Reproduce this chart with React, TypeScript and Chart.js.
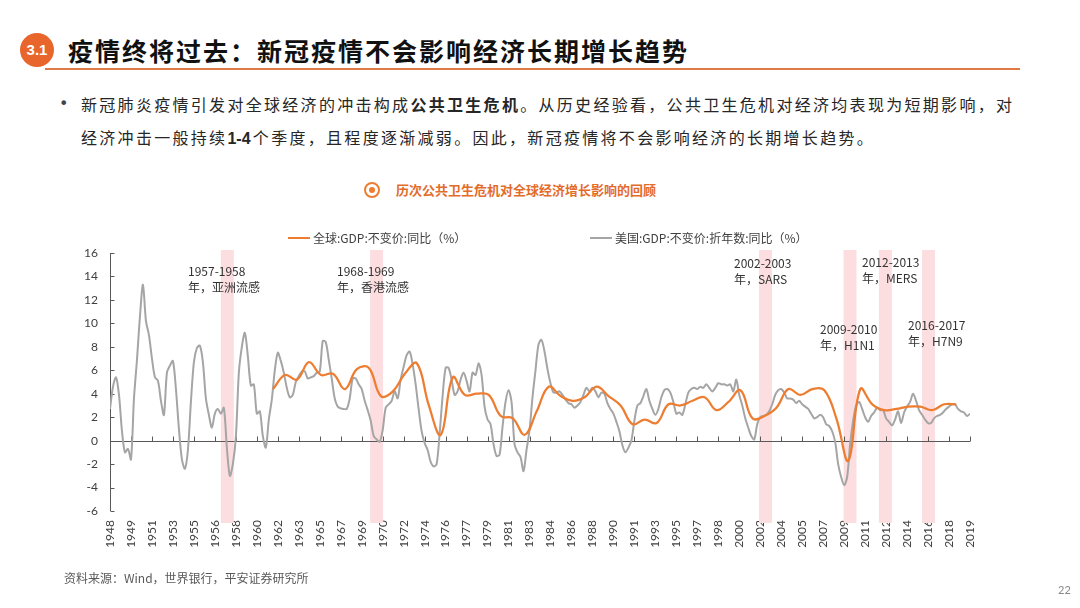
import React, { useEffect, useRef } from 'react';
import { Chart, registerables } from 'chart.js';

Chart.register(...registerables);

// ---------- data ----------
const xTickLabels = [
  '1948', '1949', '1951', '1953', '1955', '1956', '1958', '1960', '1962', '1963',
  '1965', '1967', '1969', '1970', '1972', '1974', '1976', '1977', '1979', '1981',
  '1983', '1984', '1986', '1988', '1990', '1991', '1993', '1995', '1997', '1998',
  '2000', '2002', '2004', '2005', '2007', '2009', '2011', '2012', '2014', '2016',
  '2018', '2019',
];
const xStartYear = 1948;
const xEndYear = 2019.75;
const xTickStepYears = 1.75;

const yMin = -6;
const yMax = 16;
const yStep = 2;

// US real GDP, annualised, yoy %, quarterly 1948Q1 - 2019Q4
const usGdp = [
  2.7, 4.6, 5.4, 3.9, // 1948
  0.8, -1.0, -0.7, -1.6, // 1949
  3.6, 6.9, 10.6, 13.3, // 1950
  10.2, 9.0, 7.0, 5.4, // 1951
  5.1, 3.4, 2.2, 5.8, // 1952
  6.4, 6.8, 4.4, 1.0, // 1953
  -1.6, -2.4, -0.8, 3.3, // 1954
  6.7, 7.9, 8.1, 6.7, // 1955
  3.6, 2.2, 1.1, 2.3, // 1956
  2.7, 2.3, 2.8, -0.6, // 1957
  -3.0, -2.0, 0.3, 5.8, // 1958
  8.0, 9.2, 7.2, 4.7, // 1959
  4.8, 2.3, 2.5, 0.4, // 1960
  -0.6, 1.8, 3.5, 6.0, // 1961
  7.5, 6.8, 5.8, 4.5, // 1962
  3.7, 3.9, 5.0, 5.5, // 1963
  5.9, 5.9, 5.3, 5.4, // 1964
  5.5, 5.8, 5.9, 8.5, // 1965
  8.4, 6.9, 5.3, 3.6, // 1966
  2.9, 2.75, 2.7, 2.7, // 1967
  3.6, 5.3, 5.3, 4.8, // 1968
  4.4, 3.4, 2.6, 1.7, // 1969
  0.4, 0.1, -0.1, 0.9, // 1970
  2.8, 3.1, 3.4, 4.2, // 1971
  3.6, 5.2, 6.3, 7.3, // 1972
  7.6, 6.5, 4.8, 2.7, // 1973
  0.8, -0.2, -0.8, -1.8, // 1974
  -2.2, -2.0, 0.6, 3.8, // 1975
  6.2, 6.2, 5.2, 3.9, // 1976
  4.2, 5.2, 5.8, 5.1, // 1977
  4.2, 5.8, 5.6, 6.6, // 1978
  5.6, 2.9, 1.8, 1.4, // 1979
  -0.3, -1.3, -1.2, 1.2, // 1980
  3.3, 4.3, 3.3, -0.3, // 1981
  -1.0, -1.4, -2.6, -0.8, // 1982
  0.9, 3.7, 6.0, 8.2, // 1983
  8.6, 7.6, 6.1, 4.9, // 1984
  4.1, 4.1, 4.2, 3.9, // 1985
  3.5, 3.2, 3.1, 2.8, // 1986
  3.0, 3.3, 3.9, 4.5, // 1987
  4.2, 4.5, 4.2, 3.7, // 1988
  4.1, 4.0, 3.2, 2.7, // 1989
  2.3, 1.6, 0.8, -0.4, // 1990
  -1.0, -0.6, 0.0, 1.7, // 1991
  3.0, 3.2, 3.8, 4.4, // 1992
  3.4, 2.7, 2.2, 2.7, // 1993
  3.7, 4.3, 4.4, 4.1, // 1994
  3.3, 2.3, 2.4, 2.2, // 1995
  3.1, 4.1, 4.4, 4.5, // 1996
  4.4, 4.6, 4.5, 4.8, // 1997
  4.5, 4.2, 4.5, 4.9, // 1998
  4.8, 4.8, 4.7, 4.8, // 1999
  4.2, 5.2, 3.9, 3.0, // 2000
  1.9, 1.1, 0.4, 0.1, // 2001
  1.4, 2.0, 2.1, 2.2, // 2002
  2.5, 3.1, 3.9, 4.3, // 2003
  4.4, 4.1, 3.6, 3.6, // 2004
  3.5, 3.2, 3.4, 3.1, // 2005
  2.9, 2.7, 2.3, 1.9, // 2006
  2.0, 2.2, 2.0, 1.4, // 2007
  1.25, 0.8, -0.1, -2.0, // 2008
  -3.1, -3.8, -3.1, -0.3, // 2009
  1.7, 3.0, 3.3, 2.7, // 2010
  2.0, 1.6, 2.1, 2.4, // 2011
  2.8, 2.6, 2.6, 1.9, // 2012
  1.6, 1.3, 1.8, 2.5, // 2013
  1.5, 2.4, 2.9, 3.3, // 2014
  4.0, 3.4, 2.6, 2.2, // 2015
  1.8, 1.5, 1.5, 1.9, // 2016
  2.1, 2.2, 2.4, 2.7, // 2017
  2.9, 3.1, 3.1, 2.7, // 2018
  2.5, 2.4, 2.1, 2.3, // 2019
];

// World real GDP yoy %, annual
const worldYears = [
  1961, 1962, 1963, 1964, 1965, 1966, 1967, 1968, 1969, 1970,
  1971, 1972, 1973, 1974, 1975, 1976, 1977, 1978, 1979, 1980,
  1981, 1982, 1983, 1984, 1985, 1986, 1987, 1988, 1989, 1990,
  1991, 1992, 1993, 1994, 1995, 1996, 1997, 1998, 1999, 2000,
  2001, 2002, 2003, 2004, 2005, 2006, 2007, 2008, 2009, 2010,
  2011, 2012, 2013, 2014, 2015, 2016, 2017, 2018,
];
const worldGdp = [
  4.4, 5.6, 5.2, 6.7, 5.6, 5.7, 4.4, 6.1, 6.2, 3.8,
  4.2, 5.7, 6.6, 3.0, 0.5, 5.4, 3.9, 4.0, 3.9, 2.1,
  1.9, 0.5, 2.5, 4.6, 3.8, 3.4, 3.7, 4.6, 3.8, 3.0,
  1.4, 1.8, 1.5, 3.1, 3.0, 3.4, 3.7, 2.6, 3.3, 4.3,
  1.9, 2.1, 2.8, 4.4, 3.9, 4.4, 4.3, 1.9, -1.7, 4.4,
  3.1, 2.6, 2.7, 2.9, 2.9, 2.6, 3.1, 3.1,
];
const worldPointOffsetYears = 0.6;

// public-health crisis periods (start year, shaded band)
const bandStarts = [1957.25, 1969.7, 2002.15, 2009.2, 2012.15, 2015.75];
const bandWidthYears = 1.08;
const bandLines1 = ['1957-1958', '1968-1969', '2002-2003', '2009-2010', '2012-2013', '2016-2017'];
const bandLines2 = ['年，亚洲流感', '年，香港流感', '年，SARS', '年，H1N1', '年，MERS', '年，H7N9'];

const worldLabel = '全球:GDP:不变价:同比（%）';
const usLabel = '美国:GDP:不变价:折年数:同比（%）';

// ---------- layout ----------
const bandLabelPos = [
  [188, 271], [337, 271], [734, 263], [820, 329], [862, 262], [908, 325],
];

const ORANGE = '#ED7D31';
const GRAY = '#A5A5A5';
const AXIS = '#595959';
const CJK = "'Noto Sans CJK SC', 'Noto Sans', sans-serif";

const decorPlugin = {
  id: 'decor',
  beforeDatasetsDraw(chart: any) {
    const { ctx, chartArea, scales } = chart;
    const xs = scales.x;
    const ys = scales.y;
    ctx.save();
    ctx.fillStyle = '#FCDDE0';
    const bandTop = chartArea.top - 3;
    const bandBottom = chartArea.bottom + 12;
    bandStarts.forEach((s) => {
      const x1 = xs.getPixelForValue(s);
      const x2 = xs.getPixelForValue(s + bandWidthYears);
      ctx.fillRect(x1, bandTop, x2 - x1, bandBottom - bandTop);
    });
    ctx.strokeStyle = AXIS;
    ctx.lineWidth = 1;
    ctx.beginPath();
    const left = Math.round(chartArea.left) + 0.5;
    ctx.moveTo(left, chartArea.top);
    ctx.lineTo(left, chartArea.bottom);
    ys.ticks.forEach((t: any) => {
      const y = Math.round(ys.getPixelForValue(t.value)) + 0.5;
      ctx.moveTo(left, y);
      ctx.lineTo(left + 4, y);
    });
    const y0 = Math.round(ys.getPixelForValue(0)) + 0.5;
    ctx.moveTo(chartArea.left, y0);
    ctx.lineTo(chartArea.right, y0);
    xs.ticks.forEach((t: any) => {
      const x = Math.round(xs.getPixelForValue(t.value)) + 0.5;
      ctx.moveTo(x, y0);
      ctx.lineTo(x, y0 - 5);
    });
    ctx.stroke();
    ctx.restore();
  },
};

function GdpChart() {
  const ref = useRef<HTMLCanvasElement | null>(null);
  useEffect(() => {
    if (!ref.current) return;
    const chart = new Chart(ref.current, {
      type: 'line',
      data: {
        datasets: [
          {
            label: worldLabel,
            data: worldGdp.map((v, i) => ({ x: worldYears[i] + worldPointOffsetYears, y: v })),
            borderColor: ORANGE,
            backgroundColor: ORANGE,
            borderWidth: 2.25,
            pointRadius: 0,
            tension: 0.4,
            order: 0,
          },
          {
            label: usLabel,
            data: usGdp.map((v, i) => ({ x: xStartYear + i / 4, y: v })),
            borderColor: GRAY,
            backgroundColor: GRAY,
            borderWidth: 2,
            pointRadius: 0,
            tension: 0.3,
            order: 1,
          },
        ],
      },
      options: {
        responsive: false,
        animation: false,
        events: [],
        layout: { padding: { left: 60, top: 253, right: 110, bottom: 47 } },
        plugins: { legend: { display: false }, tooltip: { enabled: false } },
        scales: {
          x: {
            type: 'linear',
            min: xStartYear,
            max: xEndYear,
            grid: { display: false, drawTicks: false },
            border: { display: false },
            afterBuildTicks: (s: any) => {
              s.ticks = xTickLabels.map((_, k) => ({ value: xStartYear + k * xTickStepYears }));
            },
            afterFit: (s: any) => {
              s.height = 50;
            },
            ticks: {
              autoSkip: false,
              minRotation: 90,
              maxRotation: 90,
              padding: 9,
              color: '#404040',
              font: { family: 'Lato', size: 12 },
              callback: (_v: any, i: number) => xTickLabels[i],
            },
          },
          y: {
            min: yMin,
            max: yMax,
            grid: { display: false, drawTicks: false },
            border: { display: false },
            afterFit: (s: any) => {
              s.width = 50;
            },
            ticks: {
              stepSize: yStep,
              padding: 12,
              color: '#404040',
              font: { family: 'Lato', size: 12 },
            },
          },
        },
      },
      plugins: [decorPlugin],
    } as any);
    return () => chart.destroy();
  }, []);
  return (
    <canvas
      ref={ref}
      width={1080}
      height={608}
      style={{ position: 'absolute', left: 0, top: 0, width: 1080, height: 608 }}
    />
  );
}

const abs = (left: number, top: number, extra: React.CSSProperties = {}): React.CSSProperties => ({
  position: 'absolute',
  left,
  top,
  whiteSpace: 'nowrap',
  ...extra,
});

export default function App() {
  return (
    <div
      style={{
        position: 'absolute',
        left: 0,
        top: 0,
        width: 1080,
        height: 608,
        background: '#fff',
        overflow: 'hidden',
        fontFamily: CJK,
      }}
    >
      {/* title */}
      <div
        style={abs(20, 33, {
          width: 34,
          height: 34,
          borderRadius: '50%',
          background: '#E8652B',
          color: '#fff',
          fontFamily: "'Liberation Sans', Arial, sans-serif",
          fontWeight: 700,
          fontSize: 15,
          lineHeight: '34px',
          textAlign: 'center',
        })}
      >
        3.1
      </div>
      <div style={abs(68, 33, { fontSize: 25, lineHeight: '34px', fontWeight: 700, letterSpacing: 2, color: '#111' })}>
        疫情终将过去：新冠疫情不会影响经济长期增长趋势
      </div>
      <div style={abs(45, 68, { width: 975, height: 2, background: '#E07A45' })} />

      {/* bullet text */}
      <div style={abs(59, 94, { fontSize: 16, lineHeight: '20px', color: '#444', fontFamily: "'DejaVu Sans', sans-serif" })}>•</div>
      <div style={abs(81, 94, { fontSize: 16, lineHeight: '20px', letterSpacing: 2.3, color: '#262626' })}>
        新冠肺炎疫情引发对全球经济的冲击构成<b>公共卫生危机</b>。从历史经验看，公共卫生危机对经济均表现为短期影响，对
      </div>
      <div style={abs(81, 127, { fontSize: 16, lineHeight: '20px', letterSpacing: 2.3, color: '#262626' })}>
        经济冲击一般持续
        <b style={{ letterSpacing: 0, marginRight: 2.3, fontFamily: "'Liberation Sans', Arial, sans-serif" }}>1-4</b>
        个季度，且程度逐渐减弱。因此，新冠疫情将不会影响经济的长期增长趋势。
      </div>

      {/* chart subtitle */}
      <div
        style={abs(364, 182, {
          width: 12,
          height: 12,
          borderRadius: '50%',
          border: `2px solid ${ORANGE}`,
        })}
      />
      <div style={abs(369, 187, { width: 6, height: 6, borderRadius: '50%', background: ORANGE })} />
      <div style={abs(396, 181, { fontSize: 13, lineHeight: '18px', fontWeight: 700, color: '#E46C2B' })}>
        历次公共卫生危机对全球经济增长影响的回顾
      </div>

      <GdpChart />

      {/* legend */}
      <div style={abs(288, 237, { width: 22, height: 2, background: ORANGE })} />
      <div style={abs(313, 230, { fontSize: 12, lineHeight: '16px', color: '#404040' })}>{worldLabel}</div>
      <div style={abs(590, 237, { width: 22, height: 2, background: GRAY })} />
      <div style={abs(615, 230, { fontSize: 12, lineHeight: '16px', color: '#404040' })}>{usLabel}</div>

      {/* band annotations */}
      {bandLines1.map((l1, i) => (
        <div
          key={l1}
          style={abs(bandLabelPos[i][0], bandLabelPos[i][1] - 8, {
            fontSize: 12,
            lineHeight: '15.5px',
            color: '#333',
          })}
        >
          {l1}
          <br />
          {bandLines2[i]}
        </div>
      ))}

      {/* source & page */}
      <div style={abs(64, 570, { fontSize: 12, lineHeight: '16px', color: '#595959' })}>
        资料来源：Wind，世界银行，平安证券研究所
      </div>
      <div style={abs(1058, 583, { fontSize: 11, lineHeight: '14px', color: '#888', fontFamily: 'Lato' })}>22</div>
    </div>
  );
}
